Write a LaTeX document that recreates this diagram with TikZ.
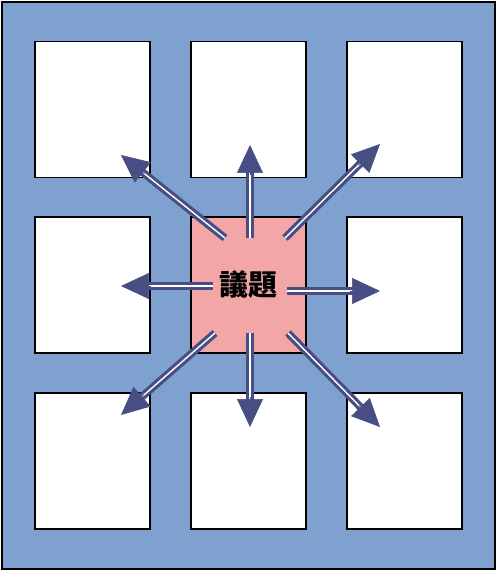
\documentclass[tikz,border=0pt]{standalone}
\usepackage{fontspec}
\newfontfamily\cjk{Noto Sans CJK JP}[BoldFont={* Black}]
\usetikzlibrary{arrows.meta,calc}
\definecolor{bgblue}{HTML}{7EA1D0}
\definecolor{arrowc}{HTML}{474E84}
\definecolor{pinkc}{HTML}{F2A6A6}
\tikzset{
  cell/.style={draw=black, line width=1.1pt, fill=white, minimum width=2.3cm, minimum height=2.72cm, inner sep=0pt},
  center/.style={cell, fill=pinkc, font=\cjk\bfseries\fontsize{16.5}{16.5}\selectfont},
  shaft/.style={draw=arrowc, line width=1.8pt, double=white, double distance=0.8pt, line cap=butt},
  head/.style={draw=arrowc, line width=0.4pt, -{Triangle[length=0.56cm, width=0.52cm, fill=arrowc]}},
}
\begin{document}
\begin{tikzpicture}[x=0.02cm, y=-0.02cm]
\useasboundingbox (0,0) rectangle (497,571);
\draw[fill=bgblue, line width=1.1pt] (2,2) rectangle (495,569);
\node[cell] (c11) at (92.5,109.5) {};
\node[cell] (c12) at (248.5,109.5) {};
\node[cell] (c13) at (404.5,109.5) {};
\node[cell] (c21) at (92.5,285) {};
\node[center] (c22) at (248.5,285) {議題};
\node[cell] (c23) at (404.5,285) {};
\node[cell] (c31) at (92.5,461) {};
\node[cell] (c32) at (248.5,461) {};
\node[cell] (c33) at (404.5,461) {};
% tails and tips
\coordinate (tU) at (250,238);  \coordinate (pU) at (250,145);
\coordinate (tD) at (250,333);  \coordinate (pD) at (250,427);
\coordinate (tL) at (213,286);  \coordinate (pL) at (121,286);
\coordinate (tR) at (287,291);  \coordinate (pR) at (380,291);
\coordinate (tUL) at (225,238); \coordinate (pUL) at (121,155);
\coordinate (tUR) at (285,238); \coordinate (pUR) at (380,144);
\coordinate (tDL) at (215,333); \coordinate (pDL) at (121,415);
\coordinate (tDR) at (288,333); \coordinate (pDR) at (380,427);
\foreach \d in {U,D,L,R,UL,UR,DL,DR}{
  \draw[shaft] (t\d) -- ($(p\d)!0.5cm!(t\d)$);
  \draw[head] ($(p\d)!0.6cm!(t\d)$) -- (p\d);
}
\end{tikzpicture}
\end{document}
